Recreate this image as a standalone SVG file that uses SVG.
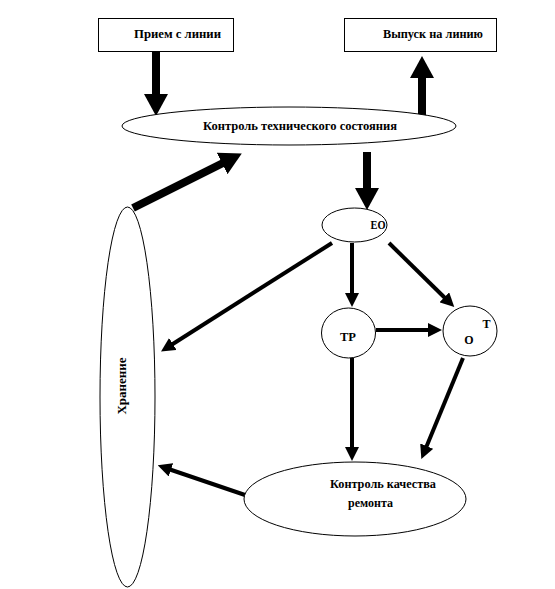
<svg xmlns="http://www.w3.org/2000/svg" width="555" height="589" viewBox="0 0 555 589">
<style>
.box{fill:#fff;stroke:#000;stroke-width:1}
.el{fill:#fff;stroke:#000;stroke-width:1}
.t{font-family:"Liberation Serif","Times New Roman",serif;font-weight:bold;font-size:12px;fill:#000}
.thick{stroke:#000;stroke-width:8;fill:none}
.thin{stroke:#000;stroke-width:4;fill:none}
</style>
<defs>
<marker id="big" markerUnits="userSpaceOnUse" markerWidth="22" markerHeight="24" viewBox="0 0 22 24" refX="1" refY="12" orient="auto"><path d="M0,0 L22,12 L0,24 z" fill="#000"/></marker>
<marker id="small" markerUnits="userSpaceOnUse" markerWidth="14" markerHeight="14" viewBox="0 0 14 14" refX="1" refY="7" orient="auto"><path d="M0,0 L14,7 L0,14 z" fill="#000"/></marker>
</defs>
<g id="connectors">
<line class="thick" x1="156" y1="52" x2="156" y2="95" marker-end="url(#big)"/>
<line class="thick" x1="422" y1="118" x2="422" y2="77" marker-end="url(#big)"/>
<line class="thick" x1="367" y1="152" x2="367" y2="189" marker-end="url(#big)"/>
<line class="thick" x1="133" y1="208" x2="223" y2="163" marker-end="url(#big)"/>
<line class="thin" x1="352" y1="243" x2="352" y2="294" marker-end="url(#small)"/>
<line class="thin" x1="389" y1="243" x2="445" y2="298" marker-end="url(#small)"/>
<line class="thin" x1="332" y1="243" x2="172" y2="344.5" marker-end="url(#small)"/>
<line class="thin" x1="376" y1="330" x2="429" y2="330" marker-end="url(#small)"/>
<line class="thin" x1="352" y1="358" x2="352" y2="448" marker-end="url(#small)"/>
<line class="thin" x1="463" y1="358" x2="426.3" y2="447" marker-end="url(#small)"/>
<line class="thin" x1="245" y1="495" x2="170" y2="469.5" marker-end="url(#small)"/>
</g>
<g id="n_priem">
<rect class="box" x="98.5" y="18.5" width="135" height="33"/>
<text class="t" x="177.5" y="38" text-anchor="middle" textLength="87" lengthAdjust="spacingAndGlyphs">Прием с линии</text>
</g>
<g id="n_vypusk">
<rect class="box" x="344.5" y="18.5" width="152" height="33"/>
<text class="t" x="433" y="38" text-anchor="middle" textLength="100" lengthAdjust="spacingAndGlyphs">Выпуск на линию</text>
</g>
<g id="n_kontrol">
<ellipse class="el" cx="289" cy="126" rx="167" ry="19"/>
<text class="t" x="300" y="130" text-anchor="middle" textLength="194" lengthAdjust="spacingAndGlyphs">Контроль технического состояния</text>
</g>
<g id="n_eo">
<ellipse class="el" cx="354.5" cy="225" rx="32.5" ry="17"/>
<text class="t" x="378" y="229" text-anchor="middle" textLength="15" lengthAdjust="spacingAndGlyphs">ЕО</text>
</g>
<g id="n_tr">
<ellipse class="el" cx="348.5" cy="333" rx="27" ry="25"/>
<text class="t" x="348" y="341" text-anchor="middle" textLength="16" lengthAdjust="spacingAndGlyphs">ТР</text>
</g>
<g id="n_to">
<ellipse class="el" cx="470" cy="331" rx="27" ry="25"/>
<text class="t" x="486.5" y="328" text-anchor="middle">Т</text>
<text class="t" x="469" y="344" text-anchor="middle">О</text>
</g>
<g id="n_kk">
<ellipse class="el" cx="355" cy="499" rx="111" ry="37"/>
<text class="t" x="383" y="488" text-anchor="middle" textLength="106" lengthAdjust="spacingAndGlyphs">Контроль качества</text>
<text class="t" x="370.5" y="507" text-anchor="middle" textLength="45" lengthAdjust="spacingAndGlyphs">ремонта</text>
</g>
<g id="n_hranenie">
<ellipse class="el" cx="127.5" cy="397" rx="27.5" ry="190"/>
<text class="t" transform="translate(126,386) rotate(-90)" text-anchor="middle" textLength="57" lengthAdjust="spacingAndGlyphs">Хранение</text>
</g>
</svg>
